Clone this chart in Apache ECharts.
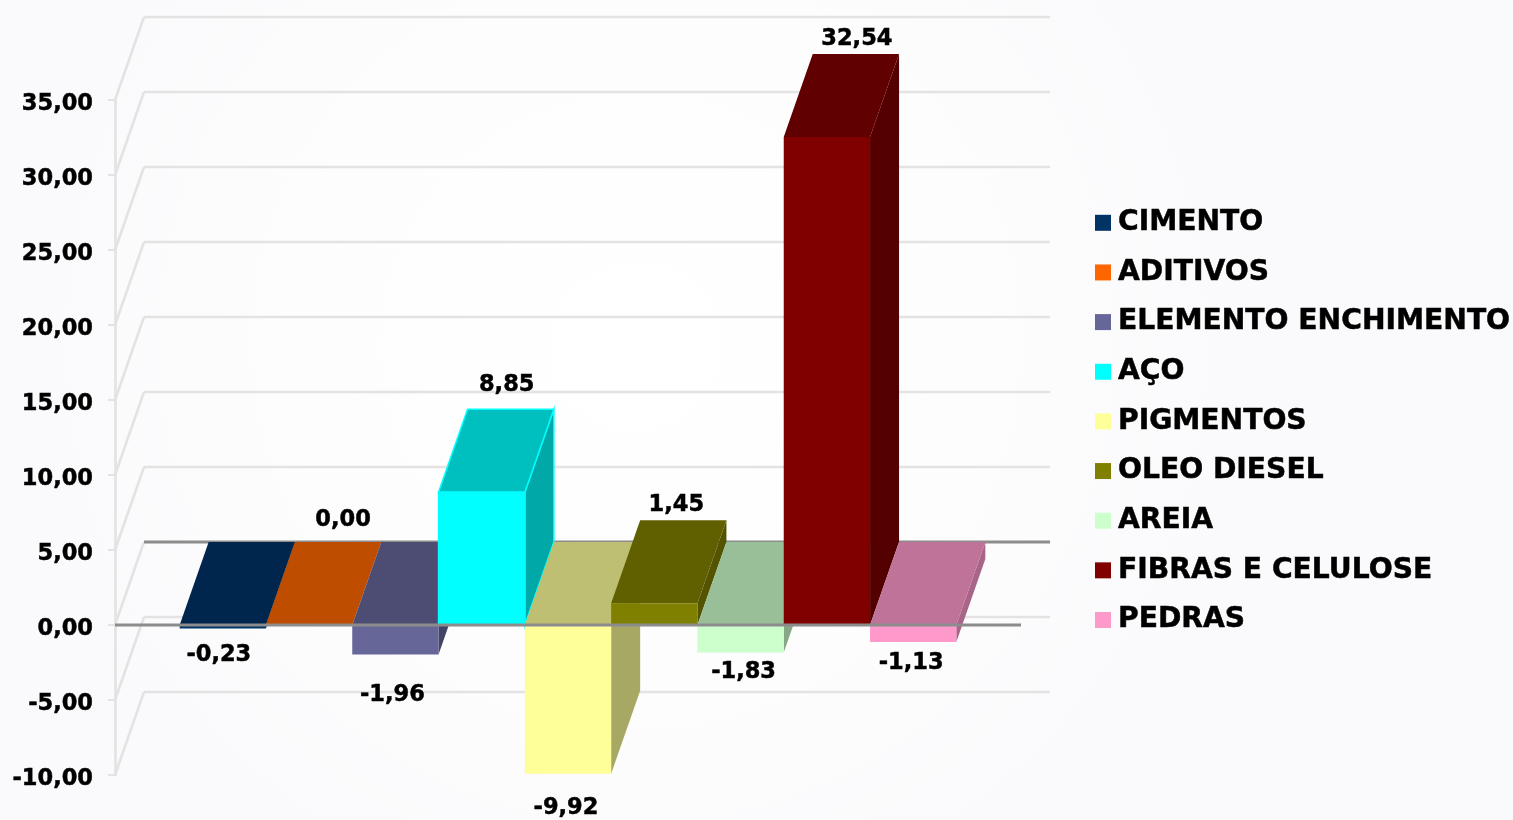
<!DOCTYPE html>
<html><head><meta charset="utf-8">
<style>html,body{margin:0;padding:0;width:100%;height:100%;background:#fbfbfd}#c{width:1513px;height:820px}</style>
<script src="https://cdn.jsdelivr.net/npm/echarts@6/dist/echarts.min.js"></script>
</head><body><div id="c"></div>
<script>
const seriesNames = ['CIMENTO','ADITIVOS','ELEMENTO ENCHIMENTO','AÇO','PIGMENTOS','OLEO DIESEL','AREIA','FIBRAS E CELULOSE','PEDRAS'];
const seriesValues = [-0.23, 0.00, -1.96, 8.85, -9.92, 1.45, -1.83, 32.54, -1.13];
const seriesColors = ['#003366','#FF6600','#666699','#00FFFF','#FFFF99','#808000','#CCFFCC','#800000','#FF99CC'];
const axisTicks = [-10,-5,0,5,10,15,20,25,30,35];

// layout / styling constants
const FONT = '"DejaVu Sans"';
const DEPTH = [29, -83];
const BAR_RATIO = 0.09525;
const labelNudge = [[-4,26],[34,0],[-3,40],[25,0],[-2,33],[22,0],[3,19],[30,0],[-2,20]];
const labelTopGap = [0,23,0,26,0,17,0,16,0];

function shade(hex,k){
  const n=parseInt(hex.slice(1),16);
  return 'rgb('+[(n>>16)&255,(n>>8)&255,n&255].map(c=>Math.round(c*k)).join(',')+')';
}
const fmt = v => v.toFixed(2).replace('.',',');

function barRender(i){
  return function(params, api){
    const v = seriesValues[i];
    const bw = api.size([1,0])[0]*BAR_RATIO;
    const z = api.coord([0,0]), p = api.coord([0,v]);
    const x0 = z[0]+(i-4.5)*bw, x1 = x0+bw;
    const y0 = z[1], yv = p[1];
    const dx=DEPTH[0], dy=DEPTH[1];
    const color = seriesColors[i];
    const yt = Math.min(y0,yv);
    const edge = i===3 ? {stroke:color,lineWidth:1.5} : {stroke:null};
    const children = [
      {type:'polygon',shape:{points:[[x1,y0],[x1+dx,y0+dy],[x1+dx,yv+dy],[x1,yv]]},style:Object.assign({fill:shade(color,0.66)},edge)},
      {type:'polygon',shape:{points:[[x0,yt],[x0+dx,yt+dy],[x1+dx,yt+dy],[x1,yt]]},style:Object.assign({fill:shade(color,0.75)},edge)}
    ];
    if(v!==0) children.push({type:'rect',shape:{x:x0,y:Math.min(y0,yv),width:bw,height:Math.abs(yv-y0)},style:Object.assign({fill:color},edge)});
    const nudge = labelNudge[i];
    const tx = (x0+x1)/2+nudge[0];
    const ty = v>=0 ? yt+dy-labelTopGap[i]+1.5 : yv+nudge[1]+1;
    children.push({type:'text',z2:50,style:{text:fmt(v),x:tx,y:ty,align:'center',verticalAlign:'middle',font:'bold 22.5px '+FONT,fill:'#000',stroke:'#000',lineWidth:0.5}});
    return {type:'group',children};
  };
}

function wallRender(params, api){
  const v = api.value(0);
  const p = api.coord([0,v]);
  const size = api.size([1,0])[0];
  const left = p[0]-size/2, right = p[0]+size/2;
  const dx=DEPTH[0], dy=DEPTH[1], y=p[1];
  const light = {stroke:'#e3e3e3',lineWidth:2.6,fill:null};
  const back = v===0 ? {stroke:'#8c8c8c',lineWidth:2.8,fill:null} : light;
  return {type:'group',children:[
    {type:'line',shape:{x1:left,y1:y,x2:left+dx,y2:y+dy},style:light},
    {type:'line',shape:{x1:left+dx,y1:y+dy,x2:right+dx,y2:y+dy},style:back}
  ]};
}
function zeroRender(params, api){
  const p = api.coord([0,0]);
  const size = api.size([1,0])[0];
  return {type:'line',shape:{x1:p[0]-size/2,y1:p[1],x2:p[0]+size/2,y2:p[1]},style:{stroke:'#8c8c8c',lineWidth:2.8}};
}

const series = [
  {type:'custom',name:'walls',silent:true,z:1,data:axisTicks.map(t=>[t]),encode:{y:0},renderItem:wallRender},
  ...seriesNames.map((n,i)=>({type:'custom',name:n,z:2+i/10,silent:true,itemStyle:{color:seriesColors[i]},data:[[0,seriesValues[i]]],encode:{x:0,y:1},renderItem:barRender(i)})),
  {type:'custom',name:'zero',silent:true,z:4,data:[[0]],encode:{y:0},renderItem:zeroRender}
];

const chart = echarts.init(document.getElementById('c'),null,{renderer:'canvas'});
chart.setOption({
  animation:false,
  backgroundColor:{type:'radial',x:0.42,y:0.42,r:0.75,colorStops:[{offset:0,color:'#ffffff'},{offset:0.55,color:'#fdfdfe'},{offset:1,color:'#fafafc'}]},
  grid:{left:115,top:100,width:906,height:675},
  xAxis:{type:'category',data:[''],axisLine:{show:false},axisTick:{show:false},axisLabel:{show:false},splitLine:{show:false}},
  yAxis:{type:'value',min:-10,max:35,interval:5,
    axisLine:{show:true,onZero:false,lineStyle:{color:'#e3e3e3',width:2.6}},
    axisTick:{show:true,length:7,lineStyle:{color:'#e3e3e3',width:2}},
    splitLine:{show:false},
    axisLabel:{margin:22,color:'#000',fontFamily:FONT,fontWeight:'bold',fontSize:22.5,verticalAlign:'top',lineHeight:8,textBorderColor:'#000',textBorderWidth:0.5,formatter:v=>fmt(v)}},
  legend:{data:seriesNames,orient:'vertical',left:1095,top:206,padding:0,itemWidth:16,itemHeight:16,itemGap:16.05,icon:'rect',selectedMode:false,
    textStyle:{color:'#000',fontFamily:FONT,fontWeight:'bold',fontSize:28.2,lineHeight:33.6,padding:[0,0,0,2],textBorderColor:'#000',textBorderWidth:0.5}},
  series
});
</script></body></html>
